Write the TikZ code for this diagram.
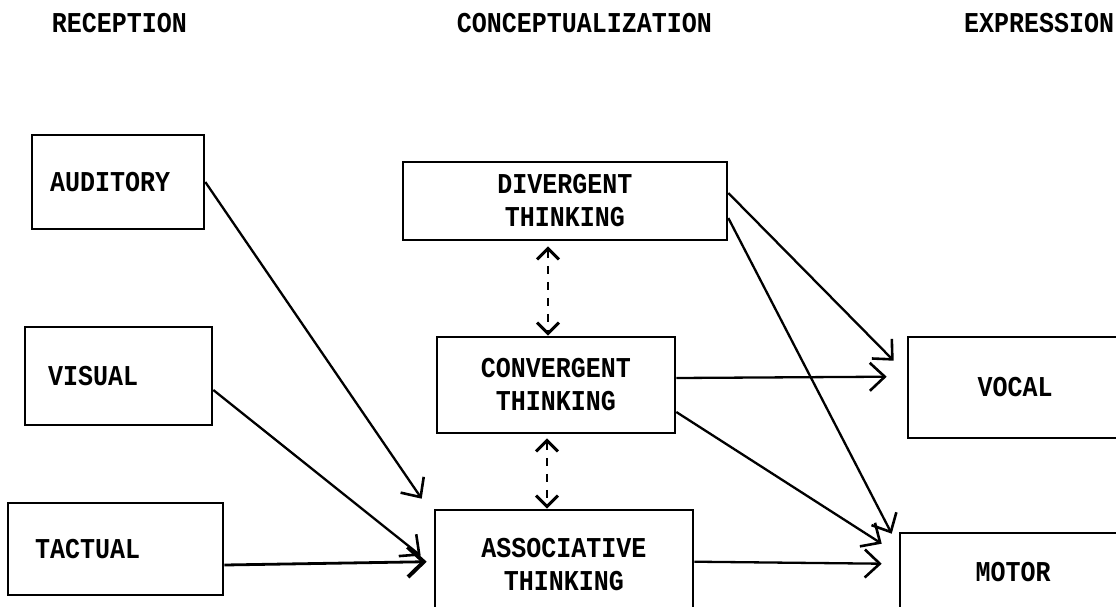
\documentclass[tikz,border=0pt]{standalone}
\usepackage{fontspec}
\usepackage{graphicx}
\setmonofont{Liberation Mono}
\usetikzlibrary{arrows.meta}
\newcommand\tw[1]{\scalebox{1}[1.15]{#1}}
\tikzset{
  box/.style={draw=black, line width=2.6pt, rectangle, inner sep=0pt, font=\ttfamily\bfseries\fontsize{25}{33}\selectfont, align=center},
  lbox/.style={box, align=left},
  hdr/.style={inner sep=0pt, font=\ttfamily\bfseries\fontsize{25}{30}\selectfont},
  conn/.style={line width=2.3pt, -{Straight Barb[length=15pt,width=28pt,line width=2.6pt]}},
  heavy/.style={line width=2.8pt, -{Straight Barb[length=16pt,width=30pt,line width=4pt]}},
  dconn/.style={line width=2.4pt, dash pattern=on 8pt off 8pt, {Straight Barb[length=11pt,width=22pt,line width=3pt]}-{Straight Barb[length=11pt,width=22pt,line width=3pt]}}
}
\begin{document}
\begin{tikzpicture}[x=1pt,y=1pt]
\useasboundingbox (0,0) rectangle (1116,-606);
\fill[white] (0,0) rectangle (1116,-606);
\clip (0,0) rectangle (1116,-606);

% headers
\node[hdr] (hrec) at (119.5,-23) {\tw{RECEPTION}};
\node[hdr] (hcon) at (584.5,-23) {\tw{CONCEPTUALIZATION}};
\node[hdr] (hexp) at (1039,-23) {\tw{EXPRESSION}};

% reception boxes
\node[lbox, minimum width=172, minimum height=94, text width=136, inner xsep=18pt, inner ysep=0pt] (aud) at (118,-182) {\tw{AUDITORY}};
\node[lbox, minimum width=187, minimum height=98, text width=141, inner xsep=23pt, inner ysep=0pt] (vis) at (118.5,-376) {\tw{VISUAL}};
\node[lbox, minimum width=215, minimum height=92, text width=161, inner xsep=27pt, inner ysep=0pt] (tac) at (115.5,-549) {\tw{TACTUAL}};

% conceptualization boxes
\node[box, minimum width=324, minimum height=78] (div) at (565,-201) {\tw{DIVERGENT}\\\tw{THINKING}};
\node[box, minimum width=238, minimum height=96] (conv) at (556,-385) {\tw{CONVERGENT}\\\tw{THINKING}};
\node[box, minimum width=258, minimum height=110] (assoc) at (564,-565) {\tw{ASSOCIATIVE}\\\tw{THINKING}};

% expression boxes
\node[box, minimum width=214, minimum height=101] (vocal) at (1015,-387.5) {\tw{VOCAL}};
\node[box, minimum width=226, minimum height=78] (motor) at (1013,-572) {\tw{MOTOR}};

% connectors reception -> associative
\draw[conn] (aud.east) -- ([shift={(-12,10)}]assoc.north west);
\draw[conn] ([yshift=-14]vis.east) -- ([shift={(-13,-47)}]assoc.north west);
\draw[heavy] ([yshift=-16]tac.east) -- ([shift={(-7,-53)}]assoc.north west);

% dashed double arrows
\draw[dconn] ([xshift=-17,yshift=-5]div.south) -- ([xshift=-8]conv.north);
\draw[dconn] ([xshift=-9,yshift=-4]conv.south) -- ([xshift=-17]assoc.north);

% conceptualization -> expression
\draw[conn] ([yshift=8]div.east) -- ([shift={(-13,-25)}]vocal.north west);
\draw[conn] ([yshift=-17]div.east) -- ([shift={(-7,-2)}]motor.north west);
\draw[conn] ([yshift=7]conv.east) -- ([shift={(-20,-41)}]vocal.north west);
\draw[conn] ([yshift=-27]conv.east) -- ([shift={(-17,-12)}]motor.north west);
\draw[conn] ([yshift=-53]assoc.north east) -- ([shift={(-17,-32)}]motor.north west);
\end{tikzpicture}
\end{document}
